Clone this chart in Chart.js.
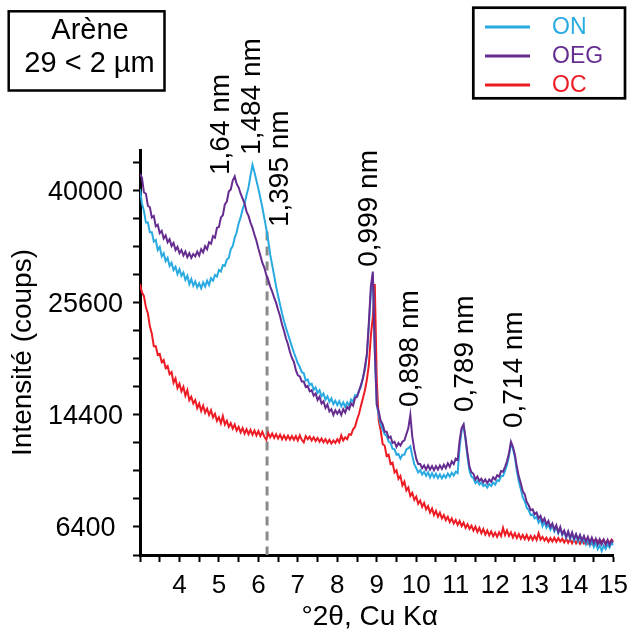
<!DOCTYPE html>
<html><head><meta charset="utf-8">
<script src="https://cdn.jsdelivr.net/npm/chart.js@4.4.1/dist/chart.umd.min.js"></script>
<style>html,body{margin:0;padding:0;background:#fff;}canvas{display:block;}</style>
</head><body>
<canvas id="c" width="636" height="635"></canvas>
<script>
// ---- DATA ----
const theta = [
3,3.05,3.1,3.15,3.2,3.25,3.3,3.35,3.4,3.45,3.5,3.55,3.6,3.65,3.7,3.75,3.8,3.85,3.9,3.95,
4,4.05,4.1,4.15,4.2,4.25,4.3,4.35,4.4,4.45,4.5,4.55,4.6,4.65,4.7,4.75,4.8,4.85,4.9,4.95,
5,5.05,5.1,5.15,5.2,5.25,5.3,5.35,5.4,5.45,5.5,5.55,5.6,5.65,5.7,5.75,5.8,5.85,5.9,5.95,
6,6.05,6.1,6.15,6.2,6.25,6.3,6.35,6.4,6.45,6.5,6.55,6.6,6.65,6.7,6.75,6.8,6.85,6.9,6.95,
7,7.05,7.1,7.15,7.2,7.25,7.3,7.35,7.4,7.45,7.5,7.55,7.6,7.65,7.7,7.75,7.8,7.85,7.9,7.95,
8,8.05,8.1,8.15,8.2,8.25,8.3,8.35,8.4,8.45,8.5,8.55,8.6,8.65,8.7,8.75,8.8,8.85,8.9,8.95,
9,9.05,9.1,9.15,9.2,9.25,9.3,9.35,9.4,9.45,9.5,9.55,9.6,9.65,9.7,9.75,9.8,9.85,9.9,9.95,
10,10.05,10.1,10.15,10.2,10.25,10.3,10.35,10.4,10.45,10.5,10.55,10.6,10.65,10.7,10.75,10.8,10.85,10.9,10.95,
11,11.05,11.1,11.15,11.2,11.25,11.3,11.35,11.4,11.45,11.5,11.55,11.6,11.65,11.7,11.75,11.8,11.85,11.9,11.95,
12,12.05,12.1,12.15,12.2,12.25,12.3,12.35,12.4,12.45,12.5,12.55,12.6,12.65,12.7,12.75,12.8,12.85,12.9,12.95,
13,13.05,13.1,13.15,13.2,13.25,13.3,13.35,13.4,13.45,13.5,13.55,13.6,13.65,13.7,13.75,13.8,13.85,13.9,13.95,
14,14.05,14.1,14.15,14.2,14.25,14.3,14.35,14.4,14.45,14.5,14.55,14.6,14.65,14.7,14.75,14.8,14.85,14.9,14.95,
15];

const ON = [
40300,38200,37200,35600,35600,34300,34300,33100,33300,32000,32400,31200,31600,30600,31000,30000,30400,29500,29900,29000,
29600,28800,29200,28300,28800,27800,28400,27600,28100,27400,27900,27300,28000,27500,28200,27700,28500,28200,28900,28700,
29500,29300,30100,30000,30800,31000,32100,32500,33600,34300,35500,36300,37400,38200,39400,40500,42200,43800,42700,41500,
40300,39000,37700,36200,34800,33200,31400,30100,28800,27500,26400,25400,24400,23550,22800,22150,21500,20850,20250,19700,
19150,18800,18300,18200,17500,17600,17100,17200,16650,16850,16350,16600,16050,16300,15750,16050,15550,15850,15350,15650,
15250,15600,15150,15500,15100,15500,15200,15750,15550,16150,16050,16600,16900,17800,18500,20000,23000,26800,29000,20300,
15300,14400,13600,13200,12800,12650,12200,12100,11650,11600,11200,11250,10900,11200,11200,11600,11700,11850,11100,10500,
10200,9900,10050,9750,9950,9650,9900,9550,9850,9550,9800,9500,9750,9480,9720,9520,9820,9600,9880,9680,
9950,9850,11800,13100,13500,12300,11000,10000,9600,9500,9150,9300,9050,9200,8950,9050,8850,9100,8950,9200,
9050,9350,9300,9650,9650,10000,10450,11100,12050,11650,11000,10000,9250,8750,8200,7950,7550,7400,7100,7150,
6900,7000,6650,6850,6450,6700,6350,6550,6250,6500,6150,6400,6050,6300,5950,6150,5800,6100,5750,6000,
5650,5950,5600,5900,5550,5800,5450,5700,5380,5620,5300,5520,5200,5400,5100,5380,5200,5450,5280,5550,
5400];

const OEG = [
42500,41900,39800,39600,37900,37700,36300,36500,35100,35300,34200,34500,33500,33900,33000,33400,32500,32900,32000,32400,
31600,32000,31300,31800,31100,31600,31000,31500,31200,31800,31300,32100,31700,32500,32100,33000,32800,33800,33600,34900,
35000,36300,36600,38100,38500,39900,40200,41500,42100,41000,40500,39600,38900,38200,37100,36500,35600,34900,34000,33200,
32200,31300,30400,29800,28900,28300,27500,26900,26200,25600,24800,24100,23200,22500,21700,21100,20300,19700,19300,18500,
18000,17900,17400,17400,16900,17000,16500,16600,16100,16300,15700,16000,15400,15600,15000,15300,14700,14900,14400,14800,
14500,14800,14400,14900,14600,15100,14900,15400,15200,15900,16000,16500,17100,17700,18800,20100,23500,27500,29300,20500,
15300,14700,13900,13600,13000,13000,12500,12600,12100,12200,11800,12100,11900,12200,12300,12800,13300,14400,12600,11600,
10900,10500,10500,10200,10400,10100,10400,10100,10350,10050,10350,10100,10400,10150,10450,10200,10550,10300,10700,10500,
10900,10800,12300,13300,13600,12500,11300,10300,9900,9800,9400,9600,9300,9450,9200,9400,9150,9400,9250,9550,
9400,9700,9600,10000,9950,10300,10700,11300,12200,11800,11200,10300,9600,9150,8600,8400,7900,7700,7400,7450,
7150,7250,6900,7050,6700,6900,6550,6750,6400,6600,6250,6500,6100,6400,6000,6200,5850,6150,5800,6100,
5750,6000,5700,5950,5650,5900,5600,5850,5520,5800,5500,5750,5450,5720,5450,5700,5420,5680,5420,5650,
5550];

const OC = [
27800,26800,26400,25100,24400,23000,22200,20900,20900,20000,20100,19300,19500,18700,18900,18100,18300,17300,17700,16800,
17200,16500,16900,16100,16600,15700,16000,15400,15700,15000,15400,14750,15200,14600,14950,14400,14800,14200,14500,13900,
14200,13700,14300,13600,13900,13400,13700,13250,13600,13100,13400,12950,13300,12850,13200,12800,13150,12750,13100,12700,
13050,12650,13000,12600,12350,12900,12550,12850,12500,12800,12450,12750,12400,12700,12380,12680,12370,12650,12350,12650,
12300,12700,12350,12150,12650,12400,12600,12300,12550,12250,12500,12200,12450,12150,12400,12100,12350,12050,12300,12100,
12400,12150,12700,12300,12550,12400,12800,12750,13200,13400,14000,14500,15200,15900,16600,17600,19000,22000,24000,27800,
17500,13900,13100,12000,11900,11100,11200,10500,10600,9900,10050,9450,9650,9000,9250,8650,8850,8300,8500,8050,
8250,7800,8000,7600,7850,7450,7650,7250,7500,7100,7350,7000,7250,6900,7100,6800,7000,6680,6900,6600,
6800,6520,6750,6450,6650,6350,6560,6300,6480,6200,6420,6120,6350,6050,6280,5980,6200,5930,6150,5880,
6080,5850,6100,5900,6350,5950,6200,5900,6100,5820,6050,5780,6000,5750,5950,5720,5950,5700,5900,5680,
5900,5680,6050,5700,5850,5650,5800,5580,5780,5600,5800,5580,5780,5600,5750,5550,5750,5530,5720,5500,
5700,5500,5680,5480,5700,5500,5680,5480,5660,5480,5650,5470,5640,5460,5630,5700,5500,5650,5520,5700,
5600];

const seriesNames = ['ON', 'OEG', 'OC'];
const yTickValues = [6400, 14400, 25600, 40000];
const xTickLabels = [4, 5, 6, 7, 8, 9, 10, 11, 12, 13, 14, 15];
const boxLines = ['Arène', '29 < 2 µm'];
const xTitle = '°2θ, Cu Kα';
const yTitle = 'Intensité (coups)';

// peak annotations (text, 2θ of label, intensity at label foot)
const peakText  = ['1,64 nm', '1,484 nm', '1,395 nm', '0,999 nm', '0,898 nm', '0,789 nm', '0,714 nm'];
const peakTheta = [5.07, 5.85, 6.55, 8.82, 9.86, 11.25, 12.48];
const peakFoot  = [42300, 45300, 35000, 29900, 15100, 14650, 13300];
const markerTheta = 6.22;   // dashed line for 1,395 nm
const markerTop = 34400;

// ---- CHART ----
const FONT = '"Liberation Sans", Arial, Helvetica, sans-serif';
const COLORS = ['#29ABE2', '#662D91', '#ED1C24'];
const ORDER = [1, 0, 2];
const seriesData = [ON, OEG, OC];
const toPts = arr => theta.map((t, i) => ({x: t, y: Math.sqrt(arr[i])}));

const deco = {
  id: 'deco',
  beforeDatasetsDraw(chart) {
    const ctx = chart.ctx, xs = chart.scales.x, ys = chart.scales.y;
    const px = xs.getPixelForValue(markerTheta);
    ctx.save();
    ctx.strokeStyle = '#8a8a8a';
    ctx.lineWidth = 3;
    ctx.setLineDash([9, 6]);
    ctx.beginPath();
    ctx.moveTo(px, ys.getPixelForValue(Math.sqrt(markerTop)));
    ctx.lineTo(px, chart.chartArea.bottom);
    ctx.stroke();
    ctx.restore();
  },
  afterDraw(chart) {
    const ctx = chart.ctx, xs = chart.scales.x, ys = chart.scales.y;
    ctx.save();
    // peak labels
    ctx.fillStyle = '#000';
    ctx.font = '28px ' + FONT;
    ctx.textAlign = 'left';
    ctx.textBaseline = 'middle';
    peakText.forEach((t, i) => {
      const x = xs.getPixelForValue(peakTheta[i]);
      const y = ys.getPixelForValue(Math.sqrt(peakFoot[i]));
      ctx.save();
      ctx.translate(x, y);
      ctx.rotate(-Math.PI / 2);
      ctx.fillText(t, 0, 0);
      ctx.restore();
    });
    // sample box
    ctx.lineWidth = 2.5;
    ctx.strokeStyle = '#000';
    ctx.strokeRect(8.7, 11.3, 155.8, 79.2);
    ctx.font = '29px ' + FONT;
    ctx.textAlign = 'center';
    ctx.fillText(boxLines[0], 90, 31);
    ctx.fillText(boxLines[1], 89.5, 64);
    // legend
    ctx.lineWidth = 2.7;
    ctx.strokeRect(473.3, 7.7, 151.7, 90.6);
    ctx.font = '23px ' + FONT;
    ctx.textAlign = 'left';
    const ly = [27, 56, 85];
    seriesNames.forEach((n, i) => {
      ctx.strokeStyle = COLORS[i];
      ctx.lineWidth = 3;
      ctx.beginPath();
      ctx.moveTo(485, ly[i]);
      ctx.lineTo(530, ly[i]);
      ctx.stroke();
      ctx.fillStyle = COLORS[i];
      ctx.fillText(n, 552, ly[i] + 1);
    });
    ctx.restore();
  }
};

new Chart(document.getElementById('c'), {
  type: 'line',
  data: {
    datasets: seriesNames.map((n, i) => ({
      label: n,
      data: toPts(seriesData[i]),
      borderColor: COLORS[i],
      backgroundColor: COLORS[i],
      borderWidth: 2,
      pointRadius: 0,
      tension: 0,
      fill: false,
      order: ORDER[i]
    }))
  },
  options: {
    responsive: false,
    animation: false,
    devicePixelRatio: 1,
    layout: {padding: {left: 0, right: 19, top: 150, bottom: 0}},
    plugins: {legend: {display: false}, tooltip: {enabled: false}},
    scales: {
      x: {
        type: 'linear', min: 3, max: 15,
        afterBuildTicks: s => { const t = []; for (let v = 3; v <= 15.001; v += 0.5) t.push({value: v}); s.ticks = t; },
        afterFit: s => { s.height = 80; },
        border: {display: true, color: '#000', width: 3},
        grid: {display: true, drawOnChartArea: false, drawTicks: true, tickLength: 7, tickWidth: 2, tickColor: '#000'},
        ticks: {
          autoSkip: false, maxRotation: 0, minRotation: 0, padding: 8,
          color: '#000', font: {family: FONT, size: 26},
          callback: v => xTickLabels.includes(v) ? String(v) : ''
        },
        title: {display: true, text: xTitle + '\u2002', color: '#000', font: {family: FONT, size: 28}, padding: {top: 0, bottom: 1}}
      },
      y: {
        type: 'linear', min: 70, max: 214.6,
        afterBuildTicks: s => { const t = []; for (let v = 70; v <= 210; v += 10) t.push({value: v}); s.ticks = t; },
        afterFit: s => { s.width = 140; },
        border: {display: true, color: '#000', width: 3},
        grid: {display: true, drawOnChartArea: false, drawTicks: true, tickLength: 7, tickWidth: 2, tickColor: '#000'},
        ticks: {
          autoSkip: false, padding: 10, labelOffset: 2,
          color: '#000', font: {family: FONT, size: 27},
          callback: v => { const c = Math.round(v * v); return yTickValues.includes(c) ? (c < 10000 ? String(c) + ' ' : String(c)) : ''; }
        },
        title: {display: true, text: yTitle, color: '#000', font: {family: FONT, size: 28}, padding: {top: 6, bottom: 0}}
      }
    }
  },
  plugins: [deco]
});
</script>
</body></html>
